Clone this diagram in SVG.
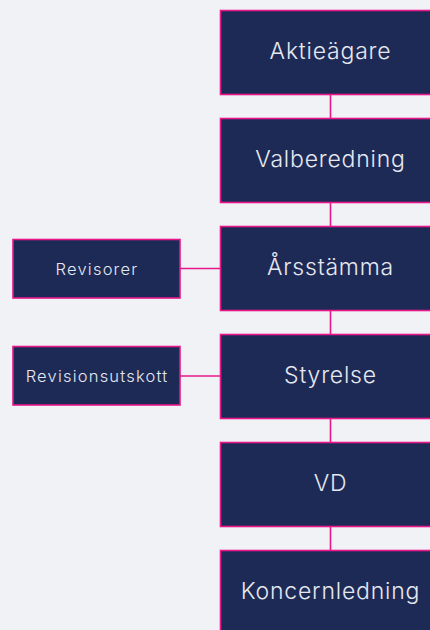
<svg xmlns="http://www.w3.org/2000/svg" width="430" height="630" viewBox="0 0 430 630">
  <style>
    .bg { fill: #f1f2f6; }
    .box { fill: #1e2a56; stroke: #e8178a; stroke-width: 1.6; }
    .main { font-family: Inter, "Noto Sans", "DejaVu Sans", sans-serif; font-weight: 300; font-size: 23px; letter-spacing: 0.8px; fill: #e6e8f0; text-anchor: middle; dominant-baseline: central; }
    .side { font-family: Inter, "Noto Sans", "DejaVu Sans", sans-serif; font-weight: 300; font-size: 16.5px; letter-spacing: 1.2px; fill: #e6e8f0; text-anchor: middle; dominant-baseline: central; }
    .conn { stroke: #e8178a; stroke-width: 1.6; fill: none; }
  </style>
  <rect class="bg" x="0" y="0" width="430" height="630"/>
  <g id="connectors">
    <line class="conn" x1="330.5" y1="94" x2="330.5" y2="118"/>
    <line class="conn" x1="330.5" y1="202" x2="330.5" y2="226"/>
    <line class="conn" x1="330.5" y1="310" x2="330.5" y2="334"/>
    <line class="conn" x1="330.5" y1="418" x2="330.5" y2="442"/>
    <line class="conn" x1="330.5" y1="526" x2="330.5" y2="550"/>
    <line class="conn" x1="180" y1="268.5" x2="220" y2="268.5"/>
    <line class="conn" x1="180" y1="376" x2="220" y2="376"/>
  </g>
  <g id="aktieagare">
    <rect class="box" x="220.5" y="10.5" width="222" height="84"/>
    <text class="main" x="330.5" y="51">Aktieägare</text>
  </g>
  <g id="valberedning">
    <rect class="box" x="220.5" y="118.5" width="222" height="84"/>
    <text class="main" x="330.5" y="159">Valberedning</text>
  </g>
  <g id="arsstamma">
    <rect class="box" x="220.5" y="226.5" width="222" height="84"/>
    <text class="main" x="330.5" y="267">Årsstämma</text>
  </g>
  <g id="styrelse">
    <rect class="box" x="220.5" y="334.5" width="222" height="84"/>
    <text class="main" x="330.5" y="375">Styrelse</text>
  </g>
  <g id="vd">
    <rect class="box" x="220.5" y="442.5" width="222" height="84"/>
    <text class="main" x="330.5" y="483">VD</text>
  </g>
  <g id="koncernledning">
    <rect class="box" x="220.5" y="550.5" width="222" height="84"/>
    <text class="main" x="330.5" y="591">Koncernledning</text>
  </g>
  <g id="revisorer">
    <rect class="box" x="13" y="239.5" width="167" height="58.5"/>
    <text class="side" x="97" y="268.5">Revisorer</text>
  </g>
  <g id="revisionsutskott">
    <rect class="box" x="13" y="346.5" width="167" height="58.5"/>
    <text class="side" x="97" y="375.5">Revisionsutskott</text>
  </g>
</svg>
